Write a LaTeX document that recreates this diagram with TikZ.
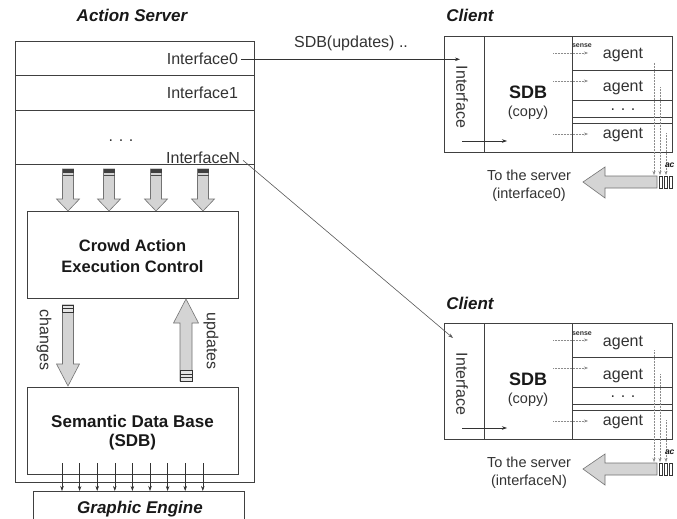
\documentclass[tikz,border=0pt]{standalone}
\usepackage{fontspec}
\setmainfont{Liberation Sans}
\usetikzlibrary{arrows.meta}
\newcommand\myfs[1]{\fontsize{#1}{#1}\selectfont}
\newcommand\mydots{.\hspace{0.35em}.\hspace{0.35em}.}
\tikzset{
  box/.style={draw=black!75, line width=0.8pt, inner sep=0pt, outer sep=0pt, anchor=north west},
  lbl/.style={inner sep=0pt, outer sep=0pt, text=black!80, font=\myfs{16}},
  ttl/.style={inner sep=0pt, outer sep=0pt, text=black!90, font=\myfs{17}\bfseries\itshape},
  bld/.style={inner sep=0pt, outer sep=0pt, text=black!90, font=\myfs{16.5}\bfseries},
  fat/.style={draw=black!55, fill=black!17, line width=0.6pt},
  thinarrow/.style={-{Stealth[length=5pt,width=3.5pt]}, line width=0.6pt, draw=black!80},
  dotarrow/.style={densely dotted, draw=black!45, -{Stealth[length=4pt,width=3pt]}, line width=0.5pt},
  stripe/.style={draw=black!80, line width=0.6pt, fill=black!10},
}
\newcommand\fatdown[4]{%
  \path[fat] (#1-5.5,#2) -- (#1+5.5,#2) -- (#1+5.5,#3) -- (#1+11.5,#3) -- (#1,#4)
    -- (#1-11.5,#3) -- (#1-5.5,#3) -- cycle;}
\newcommand\fatup[4]{%
  \path[fat] (#1-6,#2) -- (#1+6,#2) -- (#1+6,#3) -- (#1+12.5,#3) -- (#1,#4)
    -- (#1-12.5,#3) -- (#1-6,#3) -- cycle;}
\newcommand\clientblock[3]{%
  \begin{scope}[shift={(0,#2)}]
    \node[ttl, anchor=base] (#1title) at (470,22) {Client};
    \node[box, minimum width=228pt, minimum height=116pt] (#1box) at (444,36) {};
    \node[box, minimum width=40pt, minimum height=116pt] (#1if) at (444,36) {};
    \node[box, minimum width=88pt, minimum height=116pt] (#1sdb) at (484,36) {};
    \node[box, minimum width=100pt, minimum height=34pt] (#1ag1) at (572,36) {};
    \node[box, minimum width=100pt, minimum height=30pt] (#1ag2) at (572,70) {};
    \node[box, minimum width=100pt, minimum height=17pt] (#1agd) at (572,100) {};
    \node[box, minimum width=100pt, minimum height=29pt] (#1ag3) at (572,123) {};
    \node[lbl, rotate=-90] (#1iftxt) at (462,97) {Interface};
    \node[bld, font=\myfs{18}\bfseries, anchor=base] (#1sdbtxt) at (528,98) {SDB};
    \node[lbl, font=\myfs{14.5}, anchor=base] (#1copy) at (528,116) {(copy)};
    \node[lbl, anchor=base] (#1a1) at (623,59) {agent};
    \node[lbl, anchor=base] (#1a2) at (623,92) {agent};
    \node[lbl, anchor=base] (#1ad) at (623,110) {\mydots};
    \node[lbl, anchor=base] (#1a3) at (623,138) {agent};
    \node[lbl, font=\myfs{7}\bfseries, anchor=base west] (#1sense) at (572,48) {sense};
    \coordinate (#1i0) at (462,141);
    \coordinate (#1i1) at (507,141);
    \draw[thinarrow] (#1i0) -- (#1i1);
    \coordinate (#1d1) at (553,53);
    \coordinate (#1d2) at (553,81);
    \coordinate (#1d3) at (553,134);
    \foreach \k in {1,2,3} {\draw[dotarrow] (#1d\k) -- ++(35,0);}
    \coordinate (#1v1) at (654,63);
    \coordinate (#1v2) at (660,87);
    \coordinate (#1v3) at (666,133);
    \foreach \k in {1,2,3} {\draw[dotarrow] (#1v\k) -- (#1v\k |- 0,175);}
    \foreach \xx in {659,664,669} {\draw[stripe, fill=white] (\xx,176) rectangle (\xx+3.5,188);}
    \path[fat] (657,176) -- (605,176) -- (605,167) -- (583,182) -- (605,198)
      -- (605,188) -- (657,188) -- cycle;
    \node[lbl, font=\myfs{14.5}, anchor=base] (#1to) at (529,180) {To the server};
    \node[lbl, font=\myfs{14.5}, anchor=base] (#1toi) at (529,198) {(#3)};
    \node[ttl, font=\myfs{8.5}\bfseries\itshape, anchor=base west] (#1act) at (665,167) {ac};
  \end{scope}}
\begin{document}
\begin{tikzpicture}[x=1pt, y=-1pt]
  \useasboundingbox (0,0) rectangle (677,519);
  \fill[white] (0,0) rectangle (677,519);
  \clip (0,0) rectangle (677,519);

  % ---------- Action Server ----------
  \node[ttl, anchor=base] (srvtitle) at (132,22) {Action Server};
  \node[box, minimum width=239pt, minimum height=441pt] (server) at (15,41) {};
  \node[box, minimum width=239pt, minimum height=34pt] (row0) at (15,41) {};
  \node[box, minimum width=239pt, minimum height=35pt] (row1) at (15,75) {};
  \node[box, minimum width=239pt, minimum height=54pt] (rowN) at (15,110) {};
  \node[lbl, anchor=base east] (l0) at (238,65) {Interface0};
  \node[lbl, anchor=base east] (l1) at (238,99) {Interface1};
  \node[lbl, anchor=base] (ldots) at (121,141) {\mydots};
  \node[lbl, anchor=base east] (lN) at (240,163) {InterfaceN};

  % four input fat arrows
  \foreach \xx in {68,109,156,203} {
    \fatdown{\xx}{169}{199}{211}
    \fill[black!75] (\xx-5.5,169) rectangle (\xx+5.5,172.5);
    \draw[black!70, line width=0.6pt] (\xx-5.5,175.5) -- (\xx+5.5,175.5);
  }

  \node[box, minimum width=211pt, minimum height=87pt] (cae) at (27,211) {};
  \node[bld, anchor=base] (cae1) at (132.5,251) {Crowd Action};
  \node[bld, anchor=base] (cae2) at (132.5,272) {Execution Control};

  % changes / updates
  \fatdown{68}{305}{364}{386}
  \draw[stripe] (62.5,305) rectangle (73.5,312);
  \draw[black!80, line width=0.6pt] (62.5,308.5) -- (73.5,308.5);
  \node[lbl, rotate=-90] (chg) at (44,340) {changes};

  \fatup{186}{381}{323}{299}
  \draw[stripe] (180,370) rectangle (192,381);
  \draw[black!80, line width=0.6pt] (180,374) -- (192,374) (180,377.5) -- (192,377.5);
  \node[lbl, rotate=-90] (upd) at (211,341) {updates};

  \node[box, minimum width=211pt, minimum height=87pt] (sdb) at (27,387) {};
  \node[bld, font=\myfs{17}\bfseries, anchor=base] (sdb1) at (132.5,427) {Semantic Data Base};
  \node[bld, font=\myfs{17}\bfseries, anchor=base] (sdb2) at (132.5,446) {(SDB)};

  \node[box, minimum width=211pt, minimum height=45pt] (ge) at (33,491) {};
  \node[ttl, anchor=base] (getxt) at (140,513) {Graphic Engine};

  \foreach \i in {0,...,8} {
    \pgfmathsetmacro\xx{62+17.6*\i}
    \draw[thinarrow] ([yshift=11pt]sdb.south -| \xx,0) -- (ge.north -| \xx,0);
  }

  % ---------- Clients ----------
  \clientblock{ca}{0}{interface0}
  \clientblock{cb}{287}{interfaceN}

  % ---------- connections ----------
  \coordinate (c1in) at (460,59);
  \coordinate (c2in) at (453,338);
  \draw[thinarrow] ([xshift=3pt]l0.east) -- (l0.east -| c1in);
  \node[lbl, anchor=base] (upd0) at (351,48) {SDB(updates) ..};
  \draw[thinarrow, draw=black!65] ([xshift=3pt,yshift=-3pt]lN.east) -- (c2in);
\end{tikzpicture}
\end{document}
